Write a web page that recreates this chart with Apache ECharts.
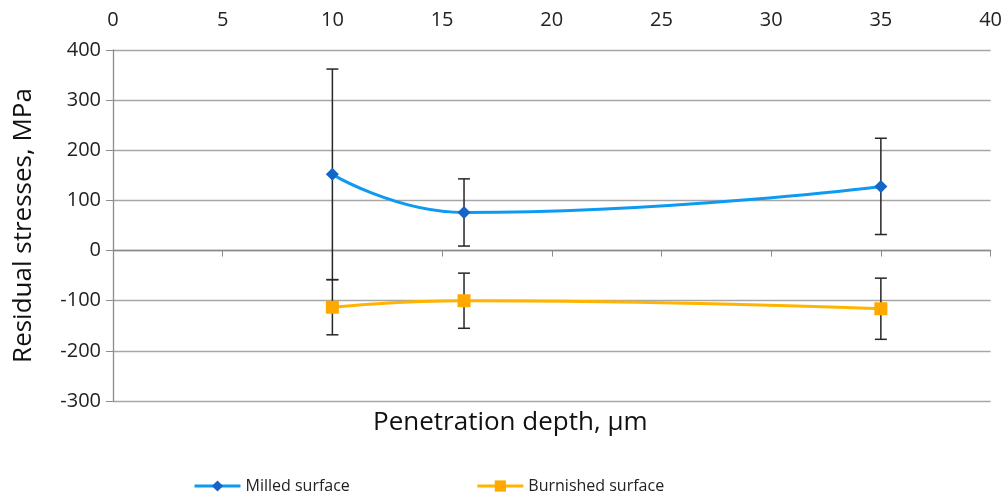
<!DOCTYPE html>
<html>
<head>
<meta charset="utf-8">
<script src="https://cdn.jsdelivr.net/npm/echarts@6/dist/echarts.min.js"></script>
<style>
  html, body { margin: 0; padding: 0; background: #fff; }
  #chart { width: 1005px; height: 494px; }
</style>
</head>
<body>
<div id="chart"></div>
<script>
// penetration depth, um
const depth = [10, 16, 35]
// residual stresses, MPa
const milled = [152, 76, 128]
const milledErr = [210, 67, 96]
const burnished = [-113, -100, -116]
const burnishedErr = [55, 55, 61]
const xTicks = [0, 5, 10, 15, 20, 25, 30, 35, 40]
const yTicks = [-300, -200, -100, 0, 100, 200, 300, 400]

const font = "'Open Sans', 'Noto Sans', sans-serif"

// error bar rows: [x, low, high]
const errRows = (vals, errs) => depth.map((d, i) => [d, vals[i] - errs[i], vals[i] + errs[i]])

const renderErr = (params, api) => {
  const x = api.value(0)
  const lo = api.coord([x, api.value(1)])
  const hi = api.coord([x, api.value(2)])
  const w = 6
  const style = { stroke: '#262626', lineWidth: 1.5 }
  return {
    type: 'group',
    children: [
      { type: 'line', shape: { x1: lo[0], y1: lo[1], x2: hi[0], y2: hi[1] }, style },
      { type: 'line', shape: { x1: lo[0] - w, y1: lo[1], x2: lo[0] + w, y2: lo[1] }, style },
      { type: 'line', shape: { x1: hi[0] - w, y1: hi[1], x2: hi[0] + w, y2: hi[1] }, style },
    ],
  }
}

const chart = echarts.init(document.getElementById('chart'))
chart.setOption({
  animation: false,
  textStyle: { fontFamily: font },
  grid: { left: 113, right: 13, top: 50, bottom: 93 },
  legend: {
    left: 188,
    top: 473,
    itemWidth: 46,
    itemHeight: 14,
    itemGap: 126,
    lineStyle: { width: 3 },
    textStyle: { fontSize: 16, color: '#222', fontFamily: font },
    data: ['Milled surface', 'Burnished surface'],
  },
  graphic: [{
    type: 'text',
    left: 373,
    top: 410,
    style: { text: 'Penetration depth, \u00b5m', fontSize: 26, fill: '#111', fontFamily: font },
  }],
  xAxis: [
    {
      type: 'value',
      position: 'bottom',
      min: xTicks[0],
      max: xTicks[xTicks.length - 1],
      interval: 5,
      axisLine: { onZero: true, lineStyle: { color: '#8c8c8c', width: 1.3 } },
      axisTick: { show: true, length: 6, lineStyle: { color: '#8c8c8c' } },
      axisLabel: { show: false },
      splitLine: { show: false },
    },
    {
      type: 'value',
      position: 'top',
      min: xTicks[0],
      max: xTicks[xTicks.length - 1],
      interval: 5,
      axisLine: { show: false },
      axisTick: { show: false },
      axisLabel: { fontSize: 20, color: '#222', margin: 20, fontFamily: font },
      splitLine: { show: false },
    },
  ],
  yAxis: {
    type: 'value',
    min: yTicks[0],
    max: yTicks[yTicks.length - 1],
    interval: 100,
    name: 'Residual stresses, MPa',
    nameLocation: 'middle',
    nameGap: 76,
    nameTextStyle: { fontSize: 26, color: '#111', fontFamily: font },
    axisLine: { show: true, onZero: false, lineStyle: { color: '#8c8c8c', width: 1.3 } },
    axisTick: { show: true, length: 7, lineStyle: { color: '#8c8c8c' } },
    axisLabel: { fontSize: 20, color: '#222', margin: 12, fontFamily: font },
    splitLine: { show: true, lineStyle: { color: '#a6a6a6', width: 1.3 } },
  },
  series: [
    {
      type: 'custom',
      name: 'milledErr',
      renderItem: renderErr,
      data: errRows(milled, milledErr),
      encode: { x: 0, y: [1, 2] },
      z: 1,
      silent: true,
    },
    {
      type: 'custom',
      name: 'burnishedErr',
      renderItem: renderErr,
      data: errRows(burnished, burnishedErr),
      encode: { x: 0, y: [1, 2] },
      z: 1,
      silent: true,
    },
    {
      type: 'line',
      name: 'Milled surface',
      data: depth.map((d, i) => [d, milled[i]]),
      smooth: 0.5,
      symbol: 'diamond',
      symbolSize: 13,
      lineStyle: { color: '#0f9af2', width: 3 },
      itemStyle: { color: '#1565c8' },
      z: 3,
    },
    {
      type: 'line',
      name: 'Burnished surface',
      data: depth.map((d, i) => [d, burnished[i]]),
      smooth: 0.5,
      symbol: 'rect',
      symbolSize: 13,
      lineStyle: { color: '#ffb400', width: 3 },
      itemStyle: { color: '#ffa800' },
      z: 3,
    },
  ],
})
</script>
</body>
</html>
